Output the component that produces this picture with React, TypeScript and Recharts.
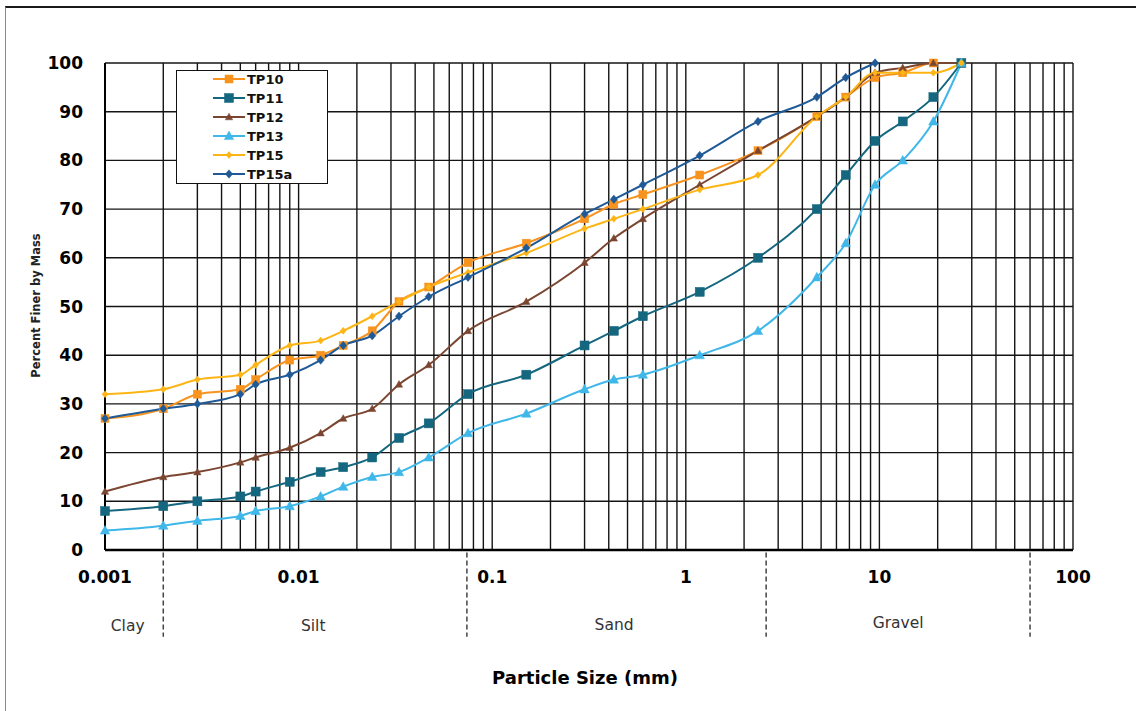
import React from 'react';
import { LineChart, Line, XAxis, YAxis, CartesianGrid, ReferenceLine, ReferenceDot, Label } from 'recharts';

const FONT = '"DejaVu Sans", "Liberation Sans", sans-serif';

// particle sizes (mm)
const sizes = [0.001, 0.002, 0.003, 0.005, 0.006, 0.009, 0.013, 0.017, 0.024, 0.033, 0.047, 0.075, 0.15, 0.3, 0.425, 0.6, 1.18, 2.36, 4.75, 6.7, 9.5, 13.2, 19, 26.5];

// percent finer by mass
const tp10 = [27, 29, 32, 33, 35, 39, 40, 42, 45, 51, 54, 59, 63, 68, 71, 73, 77, 82, 89, 93, 97, 98, 100, 100];
const tp11 = [8, 9, 10, 11, 12, 14, 16, 17, 19, 23, 26, 32, 36, 42, 45, 48, 53, 60, 70, 77, 84, 88, 93, 100];
const tp12 = [12, 15, 16, 18, 19, 21, 24, 27, 29, 34, 38, 45, 51, 59, 64, 68, 75, 82, 89, 93, 98, 99, 100, 100];
const tp13 = [4, 5, 6, 7, 8, 9, 11, 13, 15, 16, 19, 24, 28, 33, 35, 36, 40, 45, 56, 63, 75, 80, 88, 100];
const tp15 = [32, 33, 35, 36, 38, 42, 43, 45, 48, 51, 54, 57, 61, 66, 68, 70, 74, 77, 89, 93, 98, 98, 98, 100];
const tp15a = [27, 29, 30, 32, 34, 36, 39, 42, 44, 48, 52, 56, 62, 69, 72, 75, 81, 88, 93, 97, 100, null, null, null];

const xTicks = [0.001, 0.01, 0.1, 1, 10, 100];
const yTicks = [0, 10, 20, 30, 40, 50, 60, 70, 80, 90, 100];
const decades = [0.001, 0.01, 0.1, 1, 10];
const multipliers = [1, 2, 3, 4, 5, 6, 7, 8, 9];
const zoneBounds = [0.002, 0.074, 2.6, 60];
const zoneNames = ['Clay', 'Silt', 'Sand', 'Gravel'];
const zoneCenters = [0.00131, 0.0119, 0.426, 12.5];
const zoneLabelY = [-15.6, -15.6, -15.4, -14.9];

type SeriesDef = { key: string; values: (number | null)[]; color: string; shape: 'square' | 'triangle' | 'diamond'; size: number };

const series: SeriesDef[] = [
  { key: 'TP10', values: tp10, color: '#F7931E', shape: 'square', size: 8 },
  { key: 'TP11', values: tp11, color: '#15677F', shape: 'square', size: 9 },
  { key: 'TP12', values: tp12, color: '#7B4631', shape: 'triangle', size: 7 },
  { key: 'TP13', values: tp13, color: '#3FB7E8', shape: 'triangle', size: 9 },
  { key: 'TP15', values: tp15, color: '#FDB515', shape: 'diamond', size: 7 },
  { key: 'TP15a', values: tp15a, color: '#1F5A97', shape: 'diamond', size: 8.5 },
];

const vGrid: number[] = [];
decades.forEach((d) => multipliers.forEach((m) => vGrid.push(+(d * m).toPrecision(6))));
vGrid.push(100);

function drawMarker(shape: string, color: string, size: number, cx: number, cy: number, key?: any) {
  const h = size / 2;
  if (shape === 'square') {
    return <rect key={key} x={cx - h} y={cy - h} width={size} height={size} fill={color} stroke={color} strokeWidth={0.5} />;
  }
  if (shape === 'triangle') {
    const pts = `${cx},${cy - h * 1.1} ${cx + h * 1.05},${cy + h * 0.8} ${cx - h * 1.05},${cy + h * 0.8}`;
    return <polygon key={key} points={pts} fill={color} stroke={color} strokeWidth={0.5} />;
  }
  const pts = `${cx},${cy - h} ${cx + h * 0.85},${cy} ${cx},${cy + h} ${cx - h * 0.85},${cy}`;
  return <polygon key={key} points={pts} fill={color} stroke={color} strokeWidth={0.5} />;
}

const makeDot = (s: SeriesDef) => (props: any) => {
  const { cx, cy, index } = props;
  if (cx == null || cy == null || isNaN(cx) || isNaN(cy) || props.value == null) return <g key={`d-${s.key}-${index}`} />;
  return drawMarker(s.shape, s.color, s.size, cx, cy, `d-${s.key}-${index}`);
};

const fmt = (v: number) => String(v);

export default function App() {
  const data = sizes.map((sz, i) => {
    const row: any = { size: sz };
    series.forEach((s) => {
      row[s.key] = s.values[i];
    });
    return row;
  });

  return (
    <div style={{ position: 'absolute', left: 0, top: 0, width: 1136, height: 711, background: '#fff', fontFamily: FONT, overflow: 'hidden' }}>
      <div style={{ position: 'absolute', left: 5, top: 6, width: 1140, height: 720, borderTop: '2px solid #1a1a1a', borderLeft: '1px solid #8a8a8a', boxSizing: 'border-box' }} />
      <div style={{ position: 'absolute', left: 0, top: 0 }}>
        <LineChart width={1136} height={711} data={data} margin={{ top: 63, right: 63, left: 45, bottom: 121 }}>
          <CartesianGrid stroke="#141414" strokeWidth={1.4} verticalValues={vGrid} horizontalValues={yTicks} />
          <XAxis
            dataKey="size"
            type="number"
            scale="log"
            domain={[0.001, 100]}
            ticks={xTicks}
            interval={0}
            tickFormatter={fmt}
            height={40}
            tickSize={0}
            tickMargin={21}
            tickLine={false}
            axisLine={{ stroke: '#000', strokeWidth: 2.5 }}
            tick={{ fill: '#000', fontSize: 17, fontWeight: 700, fontFamily: FONT }}
          >
            <Label
              content={(p: any) => {
                const vb = p.viewBox || { x: 105, y: 550, width: 968 };
                return (
                  <text x={vb.x + vb.width / 2 - 4} y={vb.y + 134} textAnchor="middle" fontSize={18} fontWeight={700} fill="#000" fontFamily={FONT}>
                    Particle Size (mm)
                  </text>
                );
              }}
            />
          </XAxis>
          <YAxis
            type="number"
            domain={[0, 100]}
            ticks={yTicks}
            interval={0}
            width={60}
            tickSize={0}
            tickMargin={22}
            tickLine={false}
            axisLine={{ stroke: '#000', strokeWidth: 2 }}
            tick={{ fill: '#000', fontSize: 17, fontWeight: 700, fontFamily: FONT }}
          >
            <Label
              content={(p: any) => {
                const vb = p.viewBox || { x: 45, y: 63, height: 487 };
                const cx = 36;
                const cy = vb.y + vb.height / 2 - 1;
                return (
                  <text x={cx} y={cy} transform={`rotate(-90, ${cx}, ${cy})`} textAnchor="middle" dominantBaseline="central" fontSize={11.5} fontWeight={700} fill="#222" fontFamily={FONT}>
                    Percent Finer by Mass
                  </text>
                );
              }}
            />
          </YAxis>
          {zoneBounds.map((b) => (
            <ReferenceLine
              key={`zb-${b}`}
              segment={[{ x: b, y: -0.5 }, { x: b, y: -17.8 }]}
              stroke="#444"
              strokeWidth={1.5}
              strokeDasharray="5 3"
              ifOverflow="visible"
            />
          ))}
          {zoneNames.map((n, i) => (
            <ReferenceDot
              key={`zn-${n}`}
              x={zoneCenters[i]}
              y={zoneLabelY[i]}
              r={0}
              ifOverflow="visible"
              shape={(p: any) => (
                <text x={p.cx} y={p.cy} textAnchor="middle" dominantBaseline="central" fontSize={15.5} fill="#333" fontFamily={FONT}>
                  {n}
                </text>
              )}
            />
          ))}
          {series.map((s) => (
            <Line
              key={s.key}
              dataKey={s.key}
              type="monotone"
              stroke={s.color}
              strokeWidth={2}
              dot={makeDot(s)}
              activeDot={false}
              connectNulls={false}
              isAnimationActive={false}
            />
          ))}
        </LineChart>
      </div>
      <div
        style={{
          position: 'absolute',
          left: 176,
          top: 70,
          width: 152,
          height: 114,
          border: '1.5px solid #111',
          background: '#fff',
          boxSizing: 'border-box',
        }}
      >
        <svg width={150} height={112} style={{ display: 'block' }}>
          {series.map((s, i) => {
            const y = 8 + i * 19;
            return (
              <g key={`lg-${s.key}`}>
                <line x1={36} x2={68} y1={y} y2={y} stroke={s.color} strokeWidth={2} />
                {drawMarker(s.shape, s.color, s.size, 52, y)}
                <text x={70} y={y} dominantBaseline="central" fontSize={13} fontWeight={700} fill="#111" fontFamily={FONT}>
                  {s.key}
                </text>
              </g>
            );
          })}
        </svg>
      </div>
    </div>
  );
}
